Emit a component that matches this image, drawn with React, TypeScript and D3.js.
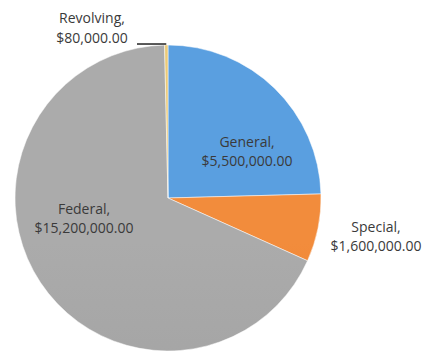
import React from "react";
import * as d3 from "d3";

const categories = ["General", "Special", "Federal", "Revolving"];
const values = [5500000, 1600000, 15200000, 80000];
const colorsTop = ["#5a9fe0", "#f28c3c", "#ababab", "#ebca78"];
const colorsBottom = ["#4687d3", "#e8711c", "#9c9c9c", "#e3bf62"];

const W = 425;
const H = 354;
const CX = 168;
const CY = 198;
const R = 153;

// label layout (text center x, first baseline y)
const labelLayout = [
  { x: 247, y: 147, fill: "#3a3a3a" },
  { x: 376, y: 232, fill: "#3a3a3a" },
  { x: 84, y: 214, fill: "#3a3a3a" },
  { x: 92, y: 23, fill: "#3a3a3a" },
];

const fmt = (v: number) => "$" + d3.format(",.2f")(v);

export default function App() {
  const pie = d3
    .pie<number>()
    .sort(null)
    .value((d) => d)
    .startAngle(0)
    .endAngle(2 * Math.PI);
  const arcs = pie(values);
  const arcGen = d3.arc<d3.PieArcDatum<number>>().innerRadius(0).outerRadius(R);

  const rev = arcs[3];
  const revMid = (rev.startAngle + rev.endAngle) / 2;
  const lx2 = CX + Math.sin(revMid) * R;
  const ly2 = CY - Math.cos(revMid) * R - 1;

  return (
    <svg
      width={W}
      height={H}
      style={{ position: "absolute", left: 0, top: 0, background: "#fff" }}
      fontFamily="'Open Sans', sans-serif"
    >
      <defs>
        {categories.map((c, i) => (
          <linearGradient
            key={c}
            id={"g" + i}
            gradientUnits="userSpaceOnUse"
            x1={0}
            y1={CY - R}
            x2={0}
            y2={CY + R}
          >
            <stop offset="0" stopColor={colorsTop[i]} />
            <stop offset="1" stopColor={colorsBottom[i]} />
          </linearGradient>
        ))}
      </defs>
      <g transform={`translate(${CX},${CY})`}>
        {arcs.map((a, i) => (
          <path
            key={categories[i]}
            d={arcGen(a) || ""}
            fill={`url(#g${i})`}
            stroke="#ffffff"
            strokeWidth={0.5}
            strokeLinejoin="round"
          />
        ))}
      </g>
      <line x1={137} y1={ly2} x2={lx2} y2={ly2} stroke="#222" strokeWidth={1.5} />
      {categories.map((c, i) => (
        <text
          key={c}
          x={labelLayout[i].x}
          y={labelLayout[i].y}
          textAnchor="middle"
          fontSize={14}
          fill={labelLayout[i].fill}
        >
          <tspan x={labelLayout[i].x}>{c},</tspan>
          <tspan x={labelLayout[i].x} dy={i === 3 ? 20 : 19}>
            {fmt(values[i])}
          </tspan>
        </text>
      ))}
    </svg>
  );
}
